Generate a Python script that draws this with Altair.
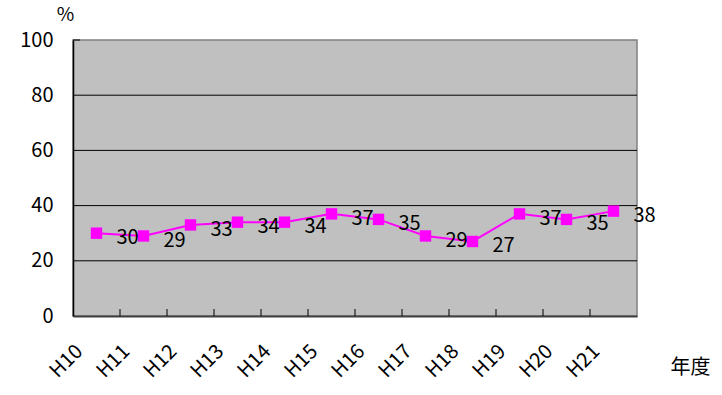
import altair as alt
import pandas as pd

years = ["H10", "H11", "H12", "H13", "H14", "H15", "H16", "H17", "H18", "H19", "H20", "H21"]
rates = [30, 29, 33, 34, 34, 37, 35, 29, 27, 37, 35, 38]
grid_values = [20, 40, 60, 80]

FONT = "Noto Sans CJK JP"
FS = 20
W, H = 564, 276

df = pd.DataFrame({"year": years, "rate": rates})
grid_df = pd.DataFrame({"v": grid_values})
tick_df = pd.DataFrame({"year": years[1:]})

x_enc = alt.X(
    "year:N",
    sort=years,
    scale=alt.Scale(domain=years, paddingInner=0, paddingOuter=0),
    axis=alt.Axis(
        title="年度", titleFont=FONT, titleFontSize=FS, titleFontWeight="normal",
        titleX=617, titleY=51, titleAlign="center", titleBaseline="middle",
        labelAngle=-45, labelAlign="right", labelBaseline="middle",
        labelFont=FONT, labelFontSize=FS, labelColor="black",
        labelPadding=32, labelOffset=-17,
        ticks=False, domainColor="#404040", domainWidth=2, grid=False,
    ),
)
y_scale = alt.Scale(domain=[0, 100], nice=False, zero=True)
y_enc = alt.Y(
    "rate:Q", scale=y_scale,
    axis=alt.Axis(
        values=[0, 20, 40, 60, 80, 100], title="%", titleAngle=0,
        titleFont=FONT, titleFontSize=19, titleFontWeight="normal",
        titleX=-8, titleY=-20, titleAlign="center", titleBaseline="alphabetic",
        labelFont=FONT, labelFontSize=FS, labelColor="black", labelPadding=20,
        ticks=False, domainColor="black", domainWidth=1.5, grid=False,
    ),
)

grid = alt.Chart(grid_df).mark_rule(color="black", strokeWidth=1).encode(
    y=alt.Y("v:Q", scale=y_scale)
)

xticks = alt.Chart(tick_df).mark_rule(color="black", strokeWidth=1).encode(
    x=alt.X("year:N", sort=years, bandPosition=0),
    y=alt.value(H - 7), y2=alt.value(H),
)

ytop = alt.Chart(pd.DataFrame({"v": [100]})).mark_rule(color="black").encode(
    y=alt.Y("v:Q", scale=y_scale), x=alt.value(0), x2=alt.value(7)
)

base = alt.Chart(df).encode(x=x_enc, y=y_enc)
line = base.mark_line(color="#FF00FF", strokeWidth=2)
pts = base.mark_square(color="#FF00FF", size=130, opacity=1)
labels = base.mark_text(
    font=FONT, fontSize=FS, color="black", dx=31, dy=5, align="center", baseline="middle"
).encode(text="rate:Q")

chart = (
    alt.layer(grid, xticks, ytop, line, pts, labels)
    .properties(
        width=W, height=H,
        autosize=alt.AutoSizeParams(type="none"),
        padding={"left": 73, "top": 40, "right": 85, "bottom": 79},
        background="white",
    )
    .configure_view(fill="#C0C0C0", stroke="#808080", strokeWidth=1.5)
)

chart.save("out.html", embed_options={"renderer": "svg", "actions": False})
